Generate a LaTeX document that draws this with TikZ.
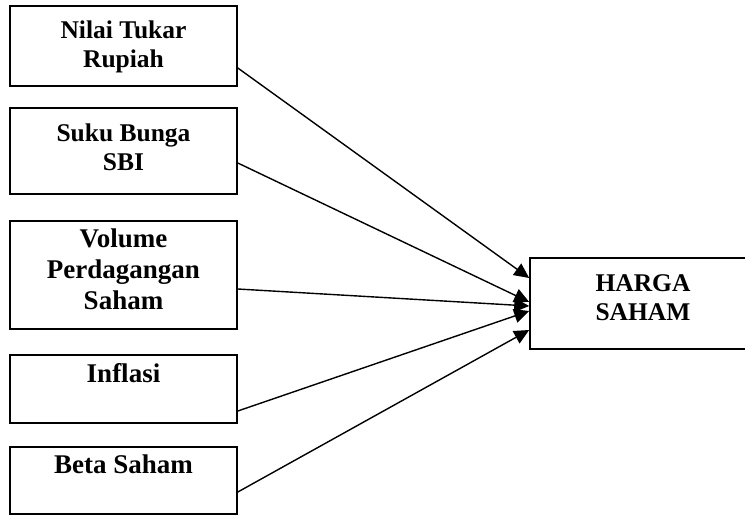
\documentclass[tikz,border=0pt]{standalone}
\usepackage{fontspec}
\setmainfont{Liberation Serif}
\usetikzlibrary{arrows.meta,calc}
\tikzset{
  kerangka/box/.style={draw=black, line width=1.6pt, minimum width=227pt,
    inner sep=0pt},
  kerangka/text/.style={align=center, anchor=base, inner sep=0pt},
  kerangka/small/.style={kerangka/text, font=\fontsize{25.5}{29}\selectfont\bfseries},
  kerangka/large/.style={kerangka/text, font=\fontsize{27}{31}\selectfont\bfseries},
  kerangka/arrow/.style={-{Triangle[length=15pt,width=14pt]}, draw=black,
    line width=1.4pt},
}

\begin{document}
\begin{tikzpicture}[
    x=1pt, y=1pt,
    var/.style={kerangka/box},
    small/.style={kerangka/small},
    large/.style={kerangka/large},
    arrow/.style={kerangka/arrow},
]
\useasboundingbox (0,0) rectangle (745,-515);
\clip (0,0) rectangle (745,-515);

% ===== Left column: independent variables =====
\node[var, minimum height=80pt]  (nilai)   at (123.5,-46)    {};
\node[var, minimum height=86pt]  (suku)    at (123.5,-151)   {};
\node[var, minimum height=108pt] (volume)  at (123.5,-275)   {};
\node[var, minimum height=68pt]  (inflasi) at (123.5,-389)   {};
\node[var, minimum height=67pt]  (beta)    at (123.5,-480.5) {};

% base anchor sits on the last line
\node[small] (nilaiText)   at ([yshift=-62pt]nilai.north)   {Nilai Tukar\\Rupiah};
\node[small] (sukuText)    at ([yshift=-63pt]suku.north)    {Suku Bunga\\SBI};
\node[large] (volumeText)  at ([yshift=-89pt]volume.north)  {Volume\\Perdagangan\\Saham};
\node[large] (inflasiText) at ([yshift=-28pt]inflasi.north) {Inflasi};
\node[large] (betaText)    at ([yshift=-27pt]beta.north)    {Beta Saham};

% ===== Right: dependent variable =====
\node[var, minimum width=226pt, minimum height=91pt] (harga) at (643,-303.5) {};
\node[small] (hargaText) at ([yshift=-63pt]harga.north) {HARGA\\SAHAM};

% ===== Arrows =====
\draw[arrow] ([yshift=-22pt]nilai.east)     -- ([yshift=25.5pt]harga.west);
\draw[arrow] ([yshift=-12pt]suku.east)      -- ([yshift=1.5pt]harga.west);
\draw[arrow] ([yshift=-14pt]volume.east)    -- ([yshift=-2.5pt]harga.west);
\draw[arrow] ([yshift=-22pt]inflasi.east)   -- ([yshift=-7.5pt]harga.west);
\draw[arrow] ([yshift=-11.5pt]beta.east)    -- ([yshift=-26.5pt]harga.west);

\end{tikzpicture}
\end{document}
